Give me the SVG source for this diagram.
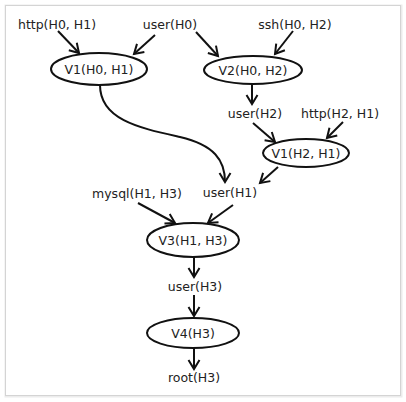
<svg xmlns="http://www.w3.org/2000/svg" width="406" height="402" viewBox="0 0 406 402">
<defs>
<marker id="arr" markerUnits="userSpaceOnUse" markerWidth="14" markerHeight="14" viewBox="-10 -7 12 14" refX="0" refY="0" orient="auto">
<path d="M-9,-5.5 L0,0 L-9,5.5" fill="none" stroke="#111" stroke-width="2"/>
</marker>
<style>
.lbl{font-family:"DejaVu Sans",Verdana,sans-serif;font-size:12.5px;fill:#222;text-anchor:middle;dominant-baseline:central}
.nd{fill:#fff;stroke:#111;stroke-width:2}
.e{fill:none;stroke:#111;stroke-width:2;marker-end:url(#arr)}
</style>
</defs>
<rect x="0" y="0" width="406" height="402" fill="#fff"/>
<rect x="6" y="6" width="395" height="390" fill="none" stroke="#ececec" stroke-width="3"/>
<rect x="5.5" y="5.5" width="395" height="390" fill="#fff" stroke="#d4d4d4" stroke-width="1"/>
<g id="connectors">
<path class="e" d="M58,31 L79,53"/>
<path class="e" d="M155,35 L134,54"/>
<path class="e" d="M196,32 L218,56"/>
<path class="e" d="M293,31 L275,54"/>
<path class="e" d="M252,84 L252,104"/>
<path class="e" d="M253,123 L275,142"/>
<path class="e" d="M343,122 L327,138"/>
<path class="e" d="M278,167 L260,183"/>
<path class="e" d="M100,85 C100,120 140,128 180,137 C214,145 225,160 225,182"/>
<path class="e" d="M138,203 L175,223"/>
<path class="e" d="M233,205 L208,223"/>
<path class="e" d="M194,257 L194,277"/>
<path class="e" d="M194,295 L194,316"/>
<path class="e" d="M194,348 L194,369"/>
</g>
<g id="n_http_H0_H1"><text class="lbl" x="57" y="24">http(H0, H1)</text></g>
<g id="n_user_H0"><text class="lbl" x="170" y="24">user(H0)</text></g>
<g id="n_ssh_H0_H2"><text class="lbl" x="295" y="24">ssh(H0, H2)</text></g>
<g id="n_V1_H0_H1"><ellipse class="nd" cx="99" cy="69" rx="48" ry="16"/><text class="lbl" x="99" y="69">V1(H0, H1)</text></g>
<g id="n_V2_H0_H2"><ellipse class="nd" cx="253" cy="70" rx="49" ry="14"/><text class="lbl" x="253" y="70">V2(H0, H2)</text></g>
<g id="n_user_H2"><text class="lbl" x="255" y="113">user(H2)</text></g>
<g id="n_http_H2_H1"><text class="lbl" x="340" y="113">http(H2, H1)</text></g>
<g id="n_V1_H2_H1"><ellipse class="nd" cx="306" cy="153" rx="43" ry="14"/><text class="lbl" x="306" y="153">V1(H2, H1)</text></g>
<g id="n_user_H1"><text class="lbl" x="230" y="192">user(H1)</text></g>
<g id="n_mysql_H1_H3"><text class="lbl" x="137" y="193">mysql(H1, H3)</text></g>
<g id="n_V3_H1_H3"><ellipse class="nd" cx="193" cy="240" rx="46" ry="17"/><text class="lbl" x="193" y="240">V3(H1, H3)</text></g>
<g id="n_user_H3"><text class="lbl" x="195" y="286">user(H3)</text></g>
<g id="n_V4_H3"><ellipse class="nd" cx="193" cy="333" rx="46" ry="15"/><text class="lbl" x="193" y="333">V4(H3)</text></g>
<g id="n_root_H3"><text class="lbl" x="194" y="377">root(H3)</text></g>
</svg>
